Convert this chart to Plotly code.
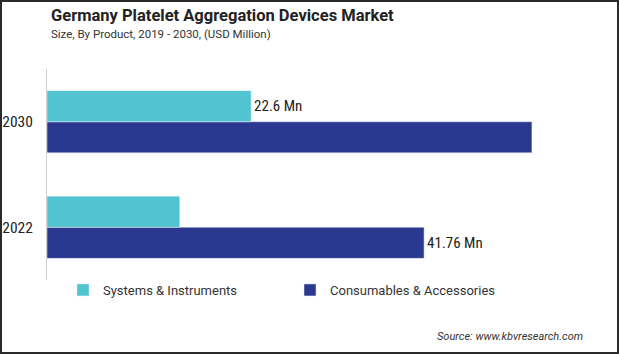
import plotly.graph_objects as go

years = ["2022", "2030"]
systems = [14.7, 22.6]
consumables = [41.76, 53.7]
systems_labels = ["", "22.6 Mn"]
consumables_labels = ["41.76 Mn", ""]

W, H = 619, 354
L, R, T, B = 47, 19, 69, 74
pw, ph = W - L - R, H - T - B

label_font = dict(family="Liberation Sans Narrow, Roboto Condensed, Arial Narrow, Roboto", size=15, color="#222")

fig = go.Figure()
fig.add_trace(go.Bar(
    y=years, x=consumables, orientation="h", name="Consumables & Accessories",
    marker_color="#2a388f", text=consumables_labels, textposition="outside",
    textfont=label_font, cliponaxis=False, legendrank=2,
))
fig.add_trace(go.Bar(
    y=years, x=systems, orientation="h", name="Systems & Instruments",
    marker_color="#52c3d0", text=systems_labels, textposition="outside",
    textfont=label_font, cliponaxis=False, legendrank=1,
))

fig.update_layout(
    width=W, height=H,
    margin=dict(l=L, r=R, t=T, b=B, autoexpand=False),
    paper_bgcolor="white", plot_bgcolor="white",
    barmode="group", bargap=0.41, bargroupgap=0,
    showlegend=True,
    legend=dict(orientation="h", x=(63 - L) / pw, xanchor="left", y=-(290 - (T + ph)) / ph,
                yanchor="middle", entrywidth=182, entrywidthmode="pixels",
                font=dict(family="Roboto, Inter, sans-serif", size=13, color="#333"),
                itemclick=False, traceorder="normal"),
    xaxis=dict(range=[0, pw / 9.03], visible=False, showgrid=False, automargin=False),
    yaxis=dict(showline=True, linecolor="#d0d0d0", linewidth=1, ticks="", showgrid=False,
               automargin=False,
               tickfont=dict(family="Liberation Sans Narrow, Roboto Condensed, Arial Narrow, Roboto", size=15.5, color="#222"),
               ticklabelstandoff=10),
    annotations=[
        dict(text="<b>Germany Platelet Aggregation Devices Market</b>", xref="paper", yref="paper",
             x=(49 - L) / pw, y=1 + (T - 15) / ph, xanchor="left", yanchor="middle", showarrow=False,
             font=dict(family="Roboto, Inter, sans-serif", size=16.5, color="#222")),
        dict(text="Size, By Product, 2019 - 2030, (USD Million)", xref="paper", yref="paper",
             x=(49 - L) / pw, y=1 + (T - 34) / ph, xanchor="left", yanchor="middle", showarrow=False,
             font=dict(family="Roboto, Inter, sans-serif", size=11.5, color="#333")),
        dict(text="<i>Source: www.kbvresearch.com</i>", xref="paper", yref="paper",
             x=(585 - L) / pw, y=-(336 - (T + ph)) / ph, xanchor="right", yanchor="middle", showarrow=False,
             font=dict(family="Roboto, Inter, sans-serif", size=11, color="#333")),
    ],
    shapes=[
        dict(type="rect", xref="paper", yref="paper",
             x0=(1 - L) / pw, x1=(W - 1 - L) / pw, y0=-(H - 1 - T - ph) / ph, y1=1 + (T - 1) / ph,
             line=dict(color="#2a2a2a", width=2), fillcolor="rgba(0,0,0,0)", layer="above"),
    ],
)

fig.write_html("out.html")
